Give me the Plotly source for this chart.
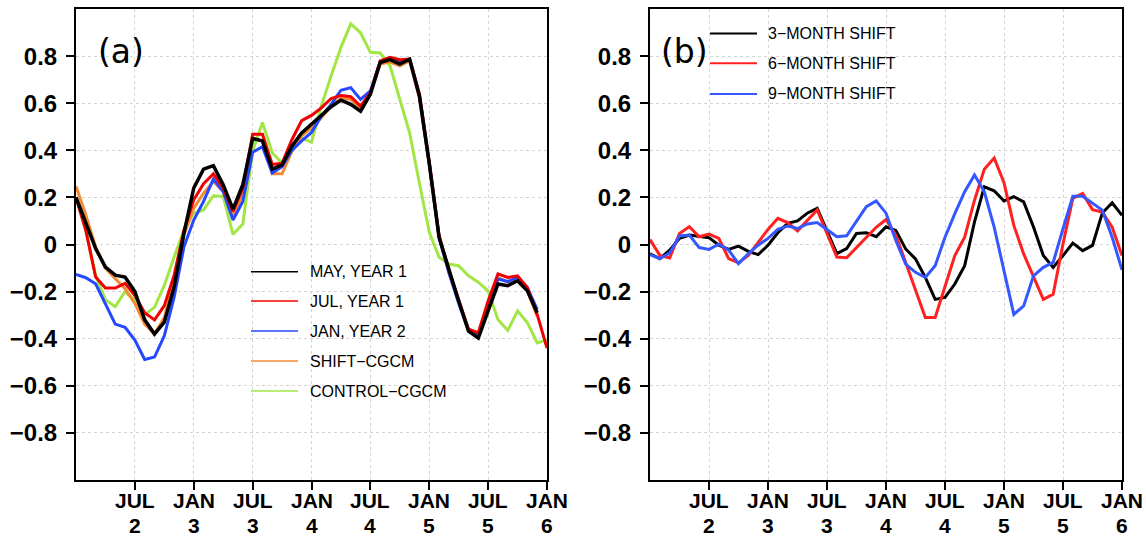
import plotly.graph_objects as go

# Months counted from January of year 2 (0) to January of year 6 (48)
months = list(range(49))

# Panel (a): correlation curves for the different start dates
may_year1 = [0.20, 0.09, -0.017, -0.096, -0.13, -0.138, -0.20, -0.32, -0.38, -0.33,
             -0.18, 0.047, 0.24, 0.32, 0.335, 0.254, 0.15, 0.254, 0.45, 0.44,
             0.32, 0.338, 0.417, 0.474, 0.51, 0.548, 0.585, 0.613, 0.595, 0.566,
             0.638, 0.773, 0.785, 0.766, 0.787, 0.63, 0.345, 0.03, -0.11, -0.24,
             -0.368, -0.397, -0.282, -0.168, -0.175, -0.154, -0.197, -0.29]
jul_year1 = [0.20, 0.06, -0.138, -0.185, -0.185, -0.165, -0.217, -0.29, -0.32, -0.26,
             -0.13, 0.06, 0.19, 0.258, 0.30, 0.24, 0.14, 0.24, 0.468, 0.468,
             0.34, 0.345, 0.445, 0.526, 0.548, 0.58, 0.62, 0.633, 0.628, 0.588,
             0.645, 0.78, 0.795, 0.785, 0.787, 0.64, 0.35, 0.04, -0.11, -0.24,
             -0.36, -0.375, -0.24, -0.125, -0.14, -0.133, -0.183, -0.297, -0.44]
jan_year2 = [-0.127, -0.141, -0.167, -0.25, -0.338, -0.352, -0.406, -0.488, -0.478, -0.388,
             -0.224, -0.01, 0.104, 0.183, 0.278, 0.225, 0.104, 0.183, 0.392, 0.415,
             0.304, 0.33, 0.40, 0.44, 0.476, 0.545, 0.595, 0.655, 0.666, 0.616,
             0.652, 0.775, 0.787, 0.776, 0.787, 0.63, 0.345, 0.03, -0.12, -0.25,
             -0.365, -0.385, -0.254, -0.147, -0.157, -0.14, -0.183, -0.275]
shift_cgcm = [0.247, 0.125, -0.01, -0.10, -0.145, -0.188, -0.25, -0.338, -0.38, -0.31,
              -0.15, 0.04, 0.154, 0.218, 0.268, 0.225, 0.118, 0.215, 0.453, 0.44,
              0.30, 0.30, 0.395, 0.462, 0.495, 0.538, 0.588, 0.623, 0.616, 0.58,
              0.64, 0.766, 0.775, 0.759, 0.78, 0.62, 0.34, 0.03, -0.115, -0.245,
              -0.36, -0.375, -0.26, -0.14, -0.16, -0.154, -0.197, -0.304]
control_cgcm = [0.20, 0.06, -0.13, -0.235, -0.264, -0.20, -0.238, -0.298, -0.267, -0.174,
                -0.053, 0.061, 0.133, 0.147, 0.207, 0.204, 0.043, 0.087, 0.397, 0.518,
                0.39, 0.345, 0.40, 0.452, 0.434, 0.588, 0.716, 0.837, 0.937, 0.899,
                0.816, 0.813, 0.759, 0.616, 0.474, 0.26, 0.053, -0.054, -0.083, -0.09,
                -0.133, -0.16, -0.197, -0.318, -0.365, -0.282, -0.332, -0.418, -0.404]

# Panel (b): differences for shifted runs
shift_3 = [-0.04, -0.06, -0.024, 0.026, 0.04, 0.036, 0.029, -0.003, -0.021, -0.007,
           -0.029, -0.043, -0.003, 0.05, 0.09, 0.10, 0.133, 0.154, 0.054, -0.039,
           -0.017, 0.047, 0.05, 0.033, 0.075, 0.06, -0.019, -0.061, -0.14, -0.233,
           -0.225, -0.168, -0.09, 0.096, 0.245, 0.228, 0.185, 0.203, 0.181, 0.074,
           -0.047, -0.097, -0.047, 0.006, -0.026, -0.004, 0.134, 0.177, 0.124]
shift_6 = [0.021, -0.046, -0.057, 0.047, 0.076, 0.033, 0.044, 0.026, -0.06, -0.078,
           -0.046, 0.007, 0.064, 0.111, 0.093, 0.058, 0.104, 0.147, 0.047, -0.053,
           -0.056, -0.013, 0.026, 0.073, 0.106, 0.04, -0.076, -0.19, -0.31, -0.31,
           -0.18, -0.047, 0.031, 0.188, 0.32, 0.367, 0.262, 0.081, -0.04, -0.14,
           -0.233, -0.211, 0.003, 0.196, 0.217, 0.148, 0.138, 0.074, -0.047]
shift_9 = [-0.043, -0.06, -0.036, 0.036, 0.04, -0.013, -0.021, 0.001, -0.024, -0.081,
           -0.039, -0.003, 0.026, 0.064, 0.078, 0.068, 0.087, 0.093, 0.064, 0.033,
           0.037, 0.097, 0.161, 0.185, 0.133, 0.017, -0.083, -0.118, -0.14, -0.09,
           0.031, 0.131, 0.224, 0.295, 0.224, 0.074, -0.111, -0.297, -0.261, -0.133,
           -0.097, -0.076, 0.067, 0.205, 0.205, 0.174, 0.146, 0.031, -0.108]

# Axis ticks
x_tick_pos = [6, 12, 18, 24, 30, 36, 42, 48]
x_tick_month = ["JUL", "JAN", "JUL", "JAN", "JUL", "JAN", "JUL", "JAN"]
x_tick_year = ["2", "3", "3", "4", "4", "5", "5", "6"]
y_tick_pos = [-0.8, -0.6, -0.4, -0.2, 0, 0.2, 0.4, 0.6, 0.8]
y_tick_text = ["\u22120.8", "\u22120.6", "\u22120.4", "\u22120.2", "0", "0.2", "0.4", "0.6", "0.8"]

legend_a = ["MAY, YEAR 1", "JUL, YEAR 1", "JAN, YEAR 2", "SHIFT\u2212CGCM", "CONTROL\u2212CGCM"]
legend_b = ["3\u2212MONTH SHIFT", "6\u2212MONTH SHIFT", "9\u2212MONTH SHIFT"]

C_BLACK = "#000000"
C_RED = "#f00000"
C_BLUE = "#2448ff"
C_ORANGE = "#f58a35"
C_GREEN = "#a2e645"
C_RED_B = "#ff2020"
C_BLUE_B = "#3358ff"

W, H = 1146, 538
PA = (76, 547)
PB = (650, 1122)
TOP, BOT = 9, 480

fig = go.Figure()

series_a = [
    (control_cgcm, C_GREEN, 3),
    (shift_cgcm, C_ORANGE, 3),
    (jan_year2, C_BLUE, 3),
    (jul_year1, C_RED, 3),
    (may_year1, C_BLACK, 3.5),
]
for vals, col, w in series_a:
    fig.add_trace(go.Scatter(x=months[:len(vals)], y=vals, mode="lines",
                             line=dict(color=col, width=w), xaxis="x", yaxis="y",
                             showlegend=False, hoverinfo="skip"))

series_b = [
    (shift_3, C_BLACK, 3),
    (shift_6, C_RED_B, 3),
    (shift_9, C_BLUE_B, 3),
]
for vals, col, w in series_b:
    fig.add_trace(go.Scatter(x=months[:len(vals)], y=vals, mode="lines",
                             line=dict(color=col, width=w), xaxis="x2", yaxis="y2",
                             showlegend=False, hoverinfo="skip"))

xtick_font = dict(family="Liberation Sans, Arial", size=21, color="black", weight="bold")
ytick_font = dict(family="Liberation Sans, Arial", size=24, color="black", weight="bold")

xcommon = dict(range=[0, 48], tickmode="array", tickvals=x_tick_pos, showticklabels=False,
               showline=True, linecolor="black", linewidth=2, mirror=True,
               ticks="outside", ticklen=8, tickwidth=2, tickcolor="black",
               showgrid=True, gridcolor="#d4d4d4", gridwidth=1, griddash="dot",
               zeroline=False, automargin=False)
ycommon = dict(range=[-1, 1], tickmode="array", tickvals=y_tick_pos, ticktext=y_tick_text,
               showline=True, linecolor="black", linewidth=2, mirror=True,
               ticks="outside", ticklen=8, tickwidth=2, tickcolor="black",
               showgrid=True, gridcolor="#d4d4d4", gridwidth=1, griddash="dot",
               zeroline=False, tickfont=ytick_font, ticklabelstandoff=4, automargin=False)

fig.update_layout(
    width=W, height=H,
    margin=dict(l=0, r=0, t=0, b=0),
    paper_bgcolor="white", plot_bgcolor="white",
    showlegend=False,
    xaxis=dict(domain=[PA[0] / W, PA[1] / W], anchor="y", **xcommon),
    yaxis=dict(domain=[1 - BOT / H, 1 - TOP / H], anchor="x", **ycommon),
    xaxis2=dict(domain=[PB[0] / W, PB[1] / W], anchor="y2", **xcommon),
    yaxis2=dict(domain=[1 - BOT / H, 1 - TOP / H], anchor="x2", **ycommon),
)

shapes = []
annotations = []

# Two-row time labels (month over year) under each x axis
for xa in ("x", "x2"):
    for pos, mon, yr in zip(x_tick_pos, x_tick_month, x_tick_year):
        annotations.append(dict(x=pos, y=1 - 500.5 / H, xref=xa, yref="paper",
                                text=mon, showarrow=False, xanchor="center",
                                yanchor="middle", font=xtick_font))
        annotations.append(dict(x=pos, y=1 - 525 / H, xref=xa, yref="paper",
                                text=yr, showarrow=False, xanchor="center",
                                yanchor="middle", font=xtick_font))

# Panel labels
annotations.append(dict(x=0.043, y=(480 - 52) / 471, xref="x domain", yref="y domain",
                        text="(a)", showarrow=False, xanchor="left", yanchor="middle",
                        font=dict(family="DejaVu Sans", size=33, color="black")))
annotations.append(dict(x=0.02, y=(480 - 52) / 471, xref="x2 domain", yref="y2 domain",
                        text="(b)", showarrow=False, xanchor="left", yanchor="middle",
                        font=dict(family="DejaVu Sans", size=33, color="black")))

legend_font = dict(family="Liberation Sans, Arial", size=16, color="black")

# Key for panel (a)
rows_a = [271.7, 301, 331, 361, 391]
cols_a = [C_BLACK, C_RED, C_BLUE, C_ORANGE, C_GREEN]
for ypx, col, label in zip(rows_a, cols_a, legend_a):
    yd = (BOT - ypx) / (BOT - TOP)
    shapes.append(dict(type="line", xref="x domain", yref="y domain",
                       x0=(251 - PA[0]) / 471, x1=(298 - PA[0]) / 471, y0=yd, y1=yd,
                       line=dict(color=col, width=1.6)))
    annotations.append(dict(x=(308 - PA[0]) / 471, y=yd, xref="x domain", yref="y domain",
                            text=label, showarrow=False, xanchor="left", yanchor="middle",
                            font=legend_font))

# Key for panel (b)
rows_b = [33.5, 63.3, 94]
cols_b = [C_BLACK, C_RED_B, C_BLUE_B]
for ypx, col, label in zip(rows_b, cols_b, legend_b):
    yd = (BOT - ypx) / (BOT - TOP)
    shapes.append(dict(type="line", xref="x2 domain", yref="y2 domain",
                       x0=(710 - PB[0]) / 472, x1=(757 - PB[0]) / 472, y0=yd, y1=yd,
                       line=dict(color=col, width=2)))
    annotations.append(dict(x=(766 - PB[0]) / 472, y=yd, xref="x2 domain", yref="y2 domain",
                            text=label, showarrow=False, xanchor="left", yanchor="middle",
                            font=legend_font))

fig.update_layout(shapes=shapes, annotations=annotations)

fig.write_html("out.html")
